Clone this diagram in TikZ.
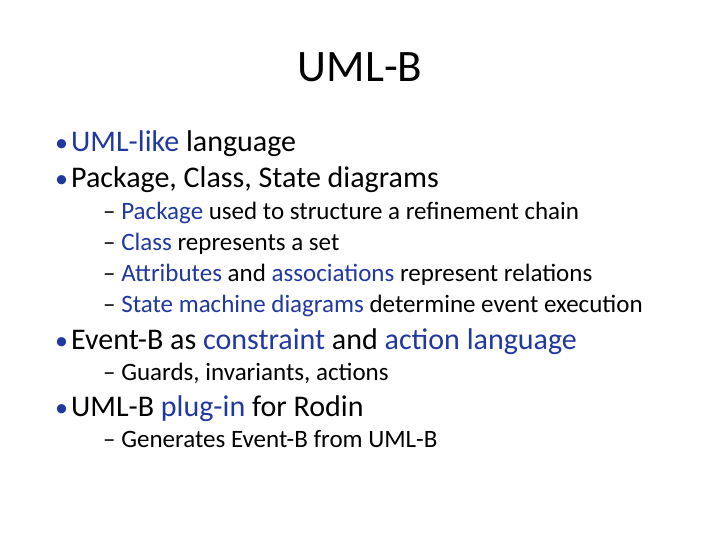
\documentclass[tikz,border=0pt]{standalone}
\usepackage{fontspec}
\setmainfont{Carlito}
\definecolor{hl}{RGB}{32,56,160}
\begin{document}
\begin{tikzpicture}[x=1pt,y=-1pt,
  lvone/.style={anchor=base west,inner sep=0,font=\fontsize{30}{36}\selectfont},
  lvtwo/.style={anchor=base west,inner sep=0,font=\fontsize{25}{30}\selectfont},
  bul/.style={anchor=base west,inner sep=0,font=\fontsize{26}{30}\selectfont,text=hl}]
\useasboundingbox[fill=white] (0,0) rectangle (720,540);
\node[anchor=base,inner sep=0,font=\fontsize{45}{54}\selectfont] (title) at (360,82) {UML-B};
\node[bul] (b1) at (55,152) {•};
\node[lvone] (t1) at (71,152) {\textcolor{hl}{UML-like} language};
\node[bul] (b2) at (55,188) {•};
\node[lvone] (t2) at (71,188) {Package, Class, State diagrams};
\node[lvtwo] (s1) at (103,219) {– \textcolor{hl}{Package} used to structure a refinement chain};
\node[lvtwo] (s2) at (103,250) {– \textcolor{hl}{Class} represents a set};
\node[lvtwo] (s3) at (103,281) {– \textcolor{hl}{Attributes} and \textcolor{hl}{associations} represent relations};
\node[lvtwo] (s4) at (103,312) {– \textcolor{hl}{State machine diagrams} determine event execution};
\node[bul] (b3) at (55,349) {•};
\node[lvone] (t3) at (71,349) {Event-B as \textcolor{hl}{constraint} and \textcolor{hl}{action language}};
\node[lvtwo] (s5) at (103,380) {– Guards, invariants, actions};
\node[bul] (b4) at (55,416) {•};
\node[lvone] (t4) at (71,416) {UML-B \textcolor{hl}{plug-in} for Rodin};
\node[lvtwo] (s6) at (103,447) {– Generates Event-B from UML-B};
\end{tikzpicture}
\end{document}
